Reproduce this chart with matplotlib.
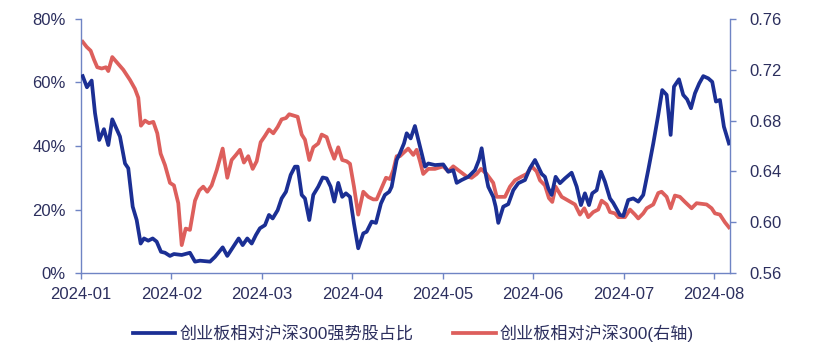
#!/usr/bin/env python3
"""创业板相对沪深300：强势股占比 vs 相对走势（双轴）。"""

import matplotlib
matplotlib.use('Agg')
import matplotlib.pyplot as plt
from matplotlib.ticker import FuncFormatter

plt.rcParams['font.family'] = ['Liberation Sans', 'Noto Sans CJK SC', 'DejaVu Sans']

# x positions are in months after 2024-01-01 (axis is evenly spaced per month)
month_labels = ['2024-01', '2024-02', '2024-03', '2024-04',
                '2024-05', '2024-06', '2024-07', '2024-08']

# 创业板相对沪深300强势股占比 (%), left axis
strong_t = [0.019, 0.066, 0.118, 0.155, 0.202, 0.254, 0.302, 0.346, 0.431, 0.487,
            0.523, 0.572, 0.616, 0.660, 0.697, 0.744, 0.793, 0.837, 0.885, 0.929,
            0.984, 1.028, 1.114, 1.205, 1.261, 1.316, 1.427, 1.482, 1.567, 1.618,
            1.673, 1.744, 1.788, 1.839, 1.888, 1.935, 1.979, 2.035, 2.079, 2.120,
            2.175, 2.219, 2.267, 2.319, 2.366, 2.396, 2.441, 2.477, 2.525, 2.569,
            2.624, 2.673, 2.717, 2.761, 2.801, 2.845, 2.889, 2.930, 2.975, 3.019,
            3.066, 3.122, 3.159, 3.215, 3.262, 3.317, 3.361, 3.409, 3.436, 3.491,
            3.527, 3.572, 3.602, 3.646, 3.693, 3.768, 3.804, 3.841, 3.915, 4.006,
            4.062, 4.117, 4.155, 4.210, 4.283, 4.357, 4.401, 4.431, 4.467, 4.504,
            4.559, 4.586, 4.615, 4.670, 4.725, 4.781, 4.836, 4.910, 4.965, 5.021,
            5.057, 5.095, 5.131, 5.168, 5.205, 5.249, 5.297, 5.352, 5.426, 5.482,
            5.529, 5.573, 5.618, 5.654, 5.703, 5.750, 5.794, 5.850, 5.886, 5.960,
            5.997, 6.052, 6.108, 6.163, 6.218, 6.273, 6.329, 6.384, 6.428, 6.477,
            6.521, 6.558, 6.613, 6.660, 6.703, 6.746, 6.790, 6.837, 6.882, 6.937,
            6.981, 7.022, 7.066, 7.110, 7.166]
strong_pct = [62.0, 58.5, 60.6, 50.4, 41.9, 45.3, 40.3, 48.4, 43.0, 34.5,
              33.0, 20.9, 16.7, 9.3, 10.9, 10.2, 10.9, 9.9, 6.7, 6.4,
              5.4, 6.0, 5.7, 6.4, 3.6, 3.9, 3.6, 5.1, 8.1, 5.4,
              7.8, 10.9, 8.8, 10.9, 9.3, 12.0, 14.1, 15.1, 18.3, 17.2,
              19.8, 23.5, 25.6, 30.9, 33.5, 33.5, 24.6, 23.5, 16.7, 24.6,
              27.2, 30.1, 29.8, 27.2, 22.5, 28.4, 24.0, 25.1, 24.0, 15.6,
              7.8, 12.5, 13.0, 16.2, 15.8, 21.9, 24.6, 25.6, 27.2, 35.6,
              37.7, 40.8, 44.0, 42.4, 46.3, 37.7, 33.5, 34.5, 34.0, 34.2,
              31.9, 32.4, 28.4, 29.3, 30.3, 32.4, 35.6, 39.3, 32.4, 27.2,
              24.0, 20.9, 15.8, 20.9, 21.7, 26.1, 28.3, 29.3, 33.0, 35.6,
              33.5, 31.2, 30.3, 26.7, 24.6, 30.3, 28.3, 29.8, 31.6, 27.2,
              21.4, 25.1, 21.4, 25.1, 26.1, 31.9, 28.8, 23.5, 22.1, 18.3,
              18.0, 23.0, 23.5, 22.5, 24.6, 32.4, 40.8, 49.8, 57.6, 56.1,
              43.5, 58.7, 61.0, 56.1, 54.7, 51.9, 56.6, 59.7, 62.0, 61.3,
              60.2, 54.0, 54.5, 46.1, 40.8]

# 创业板相对沪深300 (ratio), right axis
rel_t = [0.019, 0.063, 0.107, 0.144, 0.180, 0.229, 0.276, 0.302, 0.346, 0.395,
         0.468, 0.542, 0.597, 0.634, 0.663, 0.708, 0.752, 0.800, 0.844, 0.881,
         0.929, 0.984, 1.028, 1.076, 1.114, 1.158, 1.205, 1.261, 1.308, 1.352,
         1.397, 1.445, 1.501, 1.567, 1.618, 1.666, 1.714, 1.758, 1.802, 1.850,
         1.899, 1.943, 1.987, 2.035, 2.079, 2.127, 2.175, 2.219, 2.267, 2.303,
         2.348, 2.396, 2.441, 2.477, 2.525, 2.569, 2.624, 2.662, 2.717, 2.753,
         2.801, 2.845, 2.889, 2.938, 2.975, 3.019, 3.066, 3.122, 3.177, 3.232,
         3.270, 3.325, 3.373, 3.417, 3.454, 3.491, 3.527, 3.572, 3.619, 3.675,
         3.712, 3.749, 3.785, 3.841, 3.915, 4.006, 4.062, 4.117, 4.191, 4.265,
         4.320, 4.376, 4.423, 4.486, 4.559, 4.597, 4.689, 4.744, 4.799, 4.873,
         4.929, 4.984, 5.039, 5.076, 5.131, 5.175, 5.212, 5.249, 5.316, 5.389,
         5.463, 5.518, 5.566, 5.610, 5.665, 5.720, 5.758, 5.813, 5.850, 5.905,
         5.942, 6.016, 6.071, 6.127, 6.163, 6.218, 6.256, 6.329, 6.384, 6.421,
         6.477, 6.521, 6.568, 6.623, 6.679, 6.753, 6.808, 6.919, 6.974, 7.011,
         7.066, 7.121, 7.166]
rel_ratio = [0.742, 0.738, 0.735, 0.728, 0.722, 0.721, 0.722, 0.719, 0.730, 0.726,
             0.720, 0.712, 0.705, 0.698, 0.676, 0.680, 0.678, 0.679, 0.670, 0.654,
             0.645, 0.631, 0.629, 0.615, 0.582, 0.595, 0.594, 0.617, 0.625, 0.628,
             0.624, 0.629, 0.641, 0.658, 0.635, 0.649, 0.653, 0.657, 0.647, 0.652,
             0.642, 0.648, 0.663, 0.668, 0.673, 0.670, 0.675, 0.681, 0.682, 0.685,
             0.684, 0.683, 0.669, 0.665, 0.649, 0.659, 0.662, 0.669, 0.667, 0.659,
             0.650, 0.659, 0.649, 0.648, 0.646, 0.628, 0.606, 0.624, 0.620, 0.618,
             0.618, 0.627, 0.635, 0.634, 0.641, 0.652, 0.652, 0.655, 0.658, 0.653,
             0.657, 0.648, 0.638, 0.642, 0.642, 0.644, 0.640, 0.644, 0.640, 0.636,
             0.635, 0.638, 0.642, 0.638, 0.631, 0.620, 0.620, 0.628, 0.633, 0.636,
             0.638, 0.644, 0.640, 0.633, 0.629, 0.619, 0.616, 0.628, 0.620, 0.617,
             0.614, 0.606, 0.611, 0.604, 0.608, 0.610, 0.617, 0.614, 0.608, 0.607,
             0.604, 0.604, 0.610, 0.606, 0.603, 0.607, 0.611, 0.614, 0.623, 0.624,
             0.620, 0.611, 0.621, 0.620, 0.616, 0.611, 0.615, 0.614, 0.611, 0.607,
             0.606, 0.600, 0.596]

BLUE = '#1b2f94'
RED = '#dd5f5c'
SPINE = '#6f84c4'
TEXT = '#2c2f5e'

fig = plt.figure(figsize=(8.4, 3.51), dpi=100)
ax = fig.add_axes([0.0964, 0.222, 0.7726, 0.724])
ax2 = ax.twinx()

l1, = ax.plot(strong_t, strong_pct, color=BLUE, linewidth=2.7,
              solid_joinstyle='round', label='创业板相对沪深300强势股占比', zorder=3)
l2, = ax2.plot(rel_t, rel_ratio, color=RED, linewidth=2.7,
               solid_joinstyle='round', label='创业板相对沪深300(右轴)', zorder=2)
# blue line on top of the red one
ax.set_zorder(ax2.get_zorder() + 1)
ax.patch.set_visible(False)

ax.set_xlim(0, 7.177)
ax.set_ylim(0, 80)
ax.set_yticks([0, 20, 40, 60, 80])
ax.yaxis.set_major_formatter(FuncFormatter(lambda v, _: f'{v:.0f}%'))
ax.set_xticks(range(len(month_labels)))
ax.set_xticklabels(month_labels)

ax2.set_ylim(0.56, 0.76)
ax2.set_yticks([0.56, 0.60, 0.64, 0.68, 0.72, 0.76])
ax2.yaxis.set_major_formatter(FuncFormatter(lambda v, _: f'{v:.2f}'))

for a in (ax, ax2):
    a.spines['top'].set_visible(False)
    for s in ('left', 'right', 'bottom'):
        a.spines[s].set_color(SPINE)
        a.spines[s].set_linewidth(1.0)
    a.tick_params(colors=SPINE, labelcolor=TEXT, labelsize=12,
                  length=4, width=1.0, direction='out')
ax.spines['right'].set_visible(False)
ax2.spines['left'].set_visible(False)
ax2.spines['bottom'].set_visible(False)
ax.tick_params(axis='x', pad=6)
ax.tick_params(axis='y', pad=7)
ax2.tick_params(axis='y', pad=10)

fig.legend(handles=[l1, l2], loc='center', bbox_to_anchor=(0.492, 0.051),
           ncol=2, frameon=False, fontsize=12.3, handlelength=2.5,
           columnspacing=2.3, handletextpad=0.25, labelcolor=TEXT)

fig.savefig('out.png', dpi=100, facecolor='white')
